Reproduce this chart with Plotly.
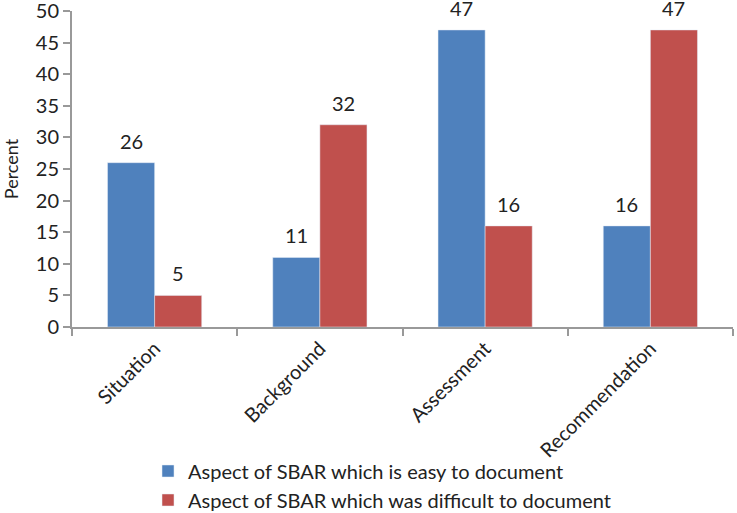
import plotly.graph_objects as go

categories = ["Situation", "Background", "Assessment", "Recommendation"]
easy = [26, 11, 47, 16]
difficult = [5, 32, 16, 47]
y_ticks = [0, 5, 10, 15, 20, 25, 30, 35, 40, 45, 50]

FONT = "Lato, Calibri, sans-serif"
BARGAP = 0.43

fig = go.Figure()
fig.add_trace(go.Bar(
    x=categories, y=easy,
    name="Aspect of SBAR which is easy to document",
    marker_color="#4F81BD",
))
fig.add_trace(go.Bar(
    x=categories, y=difficult,
    name="Aspect of SBAR which was difficult to document",
    marker_color="#C0504D",
))

# value labels above each bar, offset to the bar centre within its group
half = (1 - BARGAP) / 4
labels = []
for i, cat in enumerate(categories):
    for off, val in ((-half, easy[i]), (half, difficult[i])):
        labels.append(dict(
            x=i + off, y=val, xref="x", yref="y",
            text=str(val), showarrow=False,
            yanchor="bottom", yshift=8,
            font=dict(size=20, color="#222222"),
        ))

fig.update_layout(
    width=737, height=513,
    margin=dict(l=72, r=4, t=11, b=186, autoexpand=False),
    plot_bgcolor="white", paper_bgcolor="white",
    font=dict(family=FONT, size=20, color="#222222"),
    barmode="group", bargap=BARGAP, bargroupgap=0,
    showlegend=True,
    legend=dict(
        x=0.115, y=-0.394, xanchor="left", yanchor="top",
        font=dict(size=20), traceorder="normal",
        itemwidth=30, bgcolor="rgba(0,0,0,0)",
    ),
    annotations=labels,
)
fig.update_xaxes(
    automargin=False,
    showline=True, linecolor="#999999", linewidth=2,
    ticks="outside", tickson="boundaries", ticklen=7, tickcolor="#999999", tickwidth=2,
    tickangle=-45, tickfont=dict(size=20),
)
fig.update_yaxes(
    automargin=False,
    range=[0, 50], tickvals=y_ticks, ticklabeloverflow="allow",
    showline=True, linecolor="#999999", linewidth=2,
    ticks="outside", ticklen=7, tickcolor="#999999", tickwidth=2,
    showgrid=False, zeroline=False,
    tickfont=dict(size=20),
    title=dict(text="Percent", font=dict(size=18), standoff=14),
)

fig.write_html("out.html", config={"displayModeBar": False},
               post_script="document.body.style.margin='0';")
